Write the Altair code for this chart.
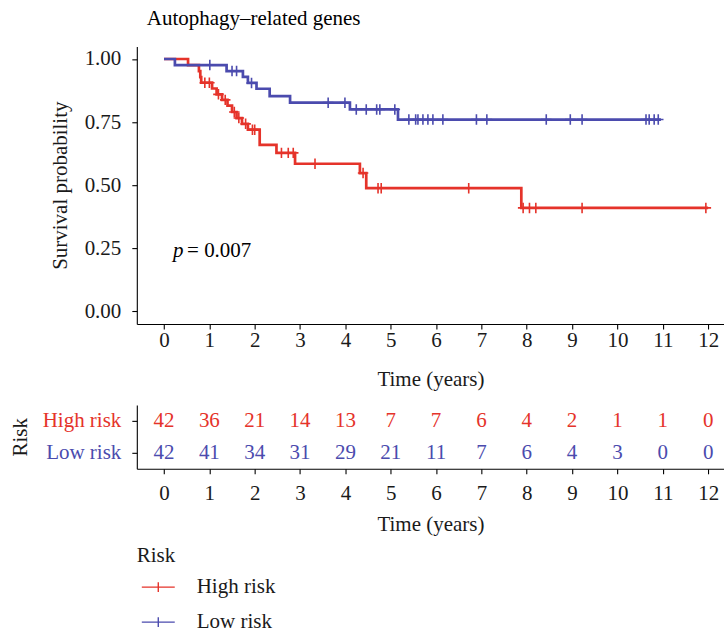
import altair as alt
import pandas as pd

RED = "#E5332A"
BLUE = "#4B4BAE"
FONT = "Liberation Serif"
FS = 21

groups = ["High risk", "Low risk"]

# Kaplan-Meier step curves
high_step_t = [0, 0.53, 0.77, 0.80, 0.82, 1.06, 1.16, 1.28, 1.40, 1.50, 1.60, 1.72, 1.85,
               2.11, 2.48, 2.89, 4.32, 4.46, 7.88, 12.0]
high_step_s = [1.0, 0.976, 0.952, 0.928, 0.906, 0.883, 0.86, 0.838, 0.815, 0.79, 0.766, 0.743, 0.72,
               0.66, 0.628, 0.585, 0.548, 0.488, 0.41, 0.41]
low_step_t = [0, 0.24, 1.38, 1.74, 1.85, 2.04, 2.33, 2.78, 4.10, 5.16, 10.96]
low_step_s = [1.0, 0.976, 0.952, 0.929, 0.905, 0.882, 0.853, 0.827, 0.80, 0.76, 0.76]

# censored observations
high_cens_t = [0.9, 1.0, 1.2, 1.35, 1.55, 1.65, 1.8, 1.95, 2.0, 2.59, 2.74, 2.85, 3.33, 4.39,
               4.72, 4.79, 6.72, 7.92, 8.06, 8.2, 9.22, 11.95]
high_cens_s = [0.906, 0.906, 0.86, 0.838, 0.79, 0.766, 0.743, 0.72, 0.72, 0.628, 0.628, 0.628,
               0.585, 0.548, 0.488, 0.488, 0.488, 0.41, 0.41, 0.41, 0.41, 0.41]
low_cens_t = [1.01, 1.5, 1.6, 1.93, 3.62, 3.99, 4.24, 4.46, 4.69, 4.76, 5.09, 5.4, 5.55, 5.6,
              5.71, 5.82, 5.93, 6.15, 6.89, 7.12, 8.43, 8.96, 9.22, 10.63, 10.7, 10.81, 10.9]
low_cens_s = [0.976, 0.952, 0.952, 0.905, 0.827, 0.827, 0.80, 0.80, 0.80, 0.80, 0.80, 0.76, 0.76,
              0.76, 0.76, 0.76, 0.76, 0.76, 0.76, 0.76, 0.76, 0.76, 0.76, 0.76, 0.76, 0.76, 0.76]

# numbers at risk
table_times = list(range(0, 13))
high_at_risk = [42, 36, 21, 14, 13, 7, 7, 6, 4, 2, 1, 1, 0]
low_at_risk = [42, 41, 34, 31, 29, 21, 11, 7, 6, 4, 3, 0, 0]

p_label = "= 0.007"

steps = pd.concat([
    pd.DataFrame({"t": high_step_t, "s": high_step_s, "Risk": groups[0]}),
    pd.DataFrame({"t": low_step_t, "s": low_step_s, "Risk": groups[1]}),
])
cens = pd.concat([
    pd.DataFrame({"t": high_cens_t, "s": high_cens_s, "Risk": groups[0]}),
    pd.DataFrame({"t": low_cens_t, "s": low_cens_s, "Risk": groups[1]}),
])
table = pd.concat([
    pd.DataFrame({"t": table_times, "n": high_at_risk, "Risk": groups[0]}),
    pd.DataFrame({"t": table_times, "n": low_at_risk, "Risk": groups[1]}),
])

XDOM = [-0.6, 12.35]
W = 588

xscale = alt.Scale(domain=XDOM, nice=False, zero=False)
color = alt.Color(
    "Risk:N",
    scale=alt.Scale(domain=groups, range=[RED, BLUE]),
    legend=alt.Legend(
        title="Risk", orient="bottom", direction="vertical",
        symbolType="M-1,0L1,0M0,-0.3L0,0.3", symbolSize=1089,
        symbolStrokeWidth=1.4, symbolOffset=4, labelOffset=21, rowPadding=7,
        titleFontSize=FS, labelFontSize=FS, titleFont=FONT, labelFont=FONT,
        titleFontWeight="normal", titlePadding=4, offset=10,
    ),
)


def xaxis(label_pad, title_pad):
    return alt.Axis(values=list(range(0, 13)), title="Time (years)", grid=False,
                    labelFontSize=FS, titleFontSize=FS, tickSize=5, labelPadding=label_pad,
                    titlePadding=title_pad, titleFontWeight="normal", labelFlush=False)


lines = alt.Chart(steps).mark_line(interpolate="step-after", strokeWidth=2.7).encode(
    x=alt.X("t:Q", scale=xscale, axis=xaxis(1, 18)),
    y=alt.Y("s:Q", scale=alt.Scale(domain=[-0.05, 1.05], nice=False),
            axis=alt.Axis(values=[0, 0.25, 0.5, 0.75, 1.0], format=".2f",
                          title="Survival probability", grid=False, labelFontSize=FS,
                          titleFontSize=FS, tickSize=5, labelPadding=11, titlePadding=14,
                          titleFontWeight="normal")),
    color=color,
    order=alt.Order("t:Q"),
)

pts = alt.Chart(cens).mark_point(
    shape="M-1,0L1,0M0,-1L0,1", size=110, strokeWidth=1.6, filled=False, opacity=1
).encode(
    x=alt.X("t:Q", scale=xscale),
    y=alt.Y("s:Q"),
    color=alt.Color("Risk:N", scale=alt.Scale(domain=groups, range=[RED, BLUE]), legend=None),
)

ptxt = pd.DataFrame({"t": [0.2], "s": [0.238], "a": ["p"], "b": [p_label]})
p1 = alt.Chart(ptxt).mark_text(align="left", baseline="middle", fontSize=FS, font=FONT,
                               fontStyle="italic", color="black").encode(
    x="t:Q", y="s:Q", text="a:N")
p2 = alt.Chart(ptxt).mark_text(align="left", baseline="middle", fontSize=FS, font=FONT,
                               dx=14, color="black").encode(
    x="t:Q", y="s:Q", text="b:N")

main = alt.layer(lines, pts, p1, p2).properties(
    width=W, height=278,
    title=alt.TitleParams("Autophagy–related genes", anchor="start", frame="group",
                          dx=10, fontSize=FS, font=FONT, fontWeight="normal", offset=17),
)

tab = alt.Chart(table).mark_text(fontSize=FS, font=FONT, baseline="middle").encode(
    x=alt.X("t:Q", scale=xscale, axis=xaxis(9, 10)),
    y=alt.Y("Risk:N", sort=groups, scale=alt.Scale(type="point", padding=0.5),
            axis=alt.Axis(title="Risk", labelFontSize=FS, titleFontSize=FS, tickSize=5,
                          labelPadding=11, titlePadding=12, titleFontWeight="normal",
                          labelColor=alt.condition("datum.value == 'High risk'",
                                                   alt.value(RED), alt.value(BLUE)))),
    text="n:Q",
    color=alt.condition(alt.datum.Risk == "High risk", alt.value(RED), alt.value(BLUE)),
).properties(width=W, height=64)

chart = alt.vconcat(main, tab, spacing=15).properties(
    padding={"left": 9, "top": 8, "right": 0, "bottom": 5}
).configure(font=FONT).configure_view(stroke=None).configure_axis(
    domainColor="black", tickColor="black", labelColor="#1a1a1a", titleColor="#1a1a1a",
    labelFont=FONT, titleFont=FONT, domainWidth=1.1, tickWidth=1.1,
).configure_legend(labelColor="#1a1a1a", titleColor="#1a1a1a")

chart.save("out.html", embed_options={"renderer": "svg", "actions": False})
